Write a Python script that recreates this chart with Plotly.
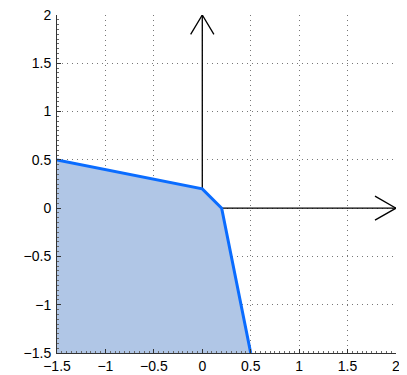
import plotly.graph_objects as go

# Region boundary (filled polygon)
region_x = [-1.5, 0.0, 0.2, 0.5]
region_y = [0.5, 0.2, 0.0, -1.5]
corner_x = [-1.5]
corner_y = [-1.5]

# Axes arrows (from the region boundary out to the tips)
yarrow_x = [0.0, 0.0]
yarrow_y = [0.2, 2.0]
yhead_x = [-0.12, 0.0, 0.12]
yhead_y = [1.8, 2.0, 1.8]
xarrow_x = [0.2, 2.0]
xarrow_y = [0.0, 0.0]
xhead_x = [1.783, 2.0, 1.783]
xhead_y = [-0.124, 0.0, 0.124]

tick_vals = [-1.5, -1, -0.5, 0, 0.5, 1, 1.5, 2]
tick_text = ["\u22121.5", "\u22121", "\u22120.5", "0", "0.5", "1", "1.5", "2"]

fig = go.Figure()

fig.add_trace(go.Scatter(
    x=region_x + corner_x + [region_x[0]],
    y=region_y + corner_y + [region_y[0]],
    mode="lines", fill="toself", fillcolor="#B0C6E6",
    line=dict(width=0), hoverinfo="skip", showlegend=False))

for ax, ay in [(yarrow_x, yarrow_y), (yhead_x, yhead_y), (xarrow_x, xarrow_y), (xhead_x, xhead_y)]:
    fig.add_trace(go.Scatter(x=ax, y=ay, mode="lines",
                             line=dict(color="black", width=1.3),
                             showlegend=False, hoverinfo="skip"))

fig.add_trace(go.Scatter(x=region_x, y=region_y, mode="lines",
                         line=dict(color="#0A6CFF", width=3),
                         showlegend=False, hoverinfo="skip"))

axis_common = dict(
    tickvals=tick_vals, ticktext=tick_text,
    showgrid=True, gridcolor="#777777", griddash="1px,4px", gridwidth=1,
    zeroline=False, showline=True, linecolor="#333333", linewidth=1,
    ticks="inside", ticklen=4, tickcolor="#333333",
    minor=dict(ticks="inside", ticklen=2, dtick=0.05, tickcolor="#666666", showgrid=False),
    tickfont=dict(family="Liberation Sans, Arial, sans-serif", size=14, color="black"),
    mirror=False, automargin=False, ticklabeloverflow="allow",
)

fig.update_xaxes(range=[-1.5, 2], ticklabelstandoff=0, **axis_common)
fig.update_yaxes(range=[-1.5, 2], ticklabelstandoff=2, **axis_common)

fig.update_layout(
    width=399, height=367,
    margin=dict(l=49, r=11, t=7, b=22, autoexpand=False),
    plot_bgcolor="white", paper_bgcolor="white",
)

fig.write_html("out.html")
